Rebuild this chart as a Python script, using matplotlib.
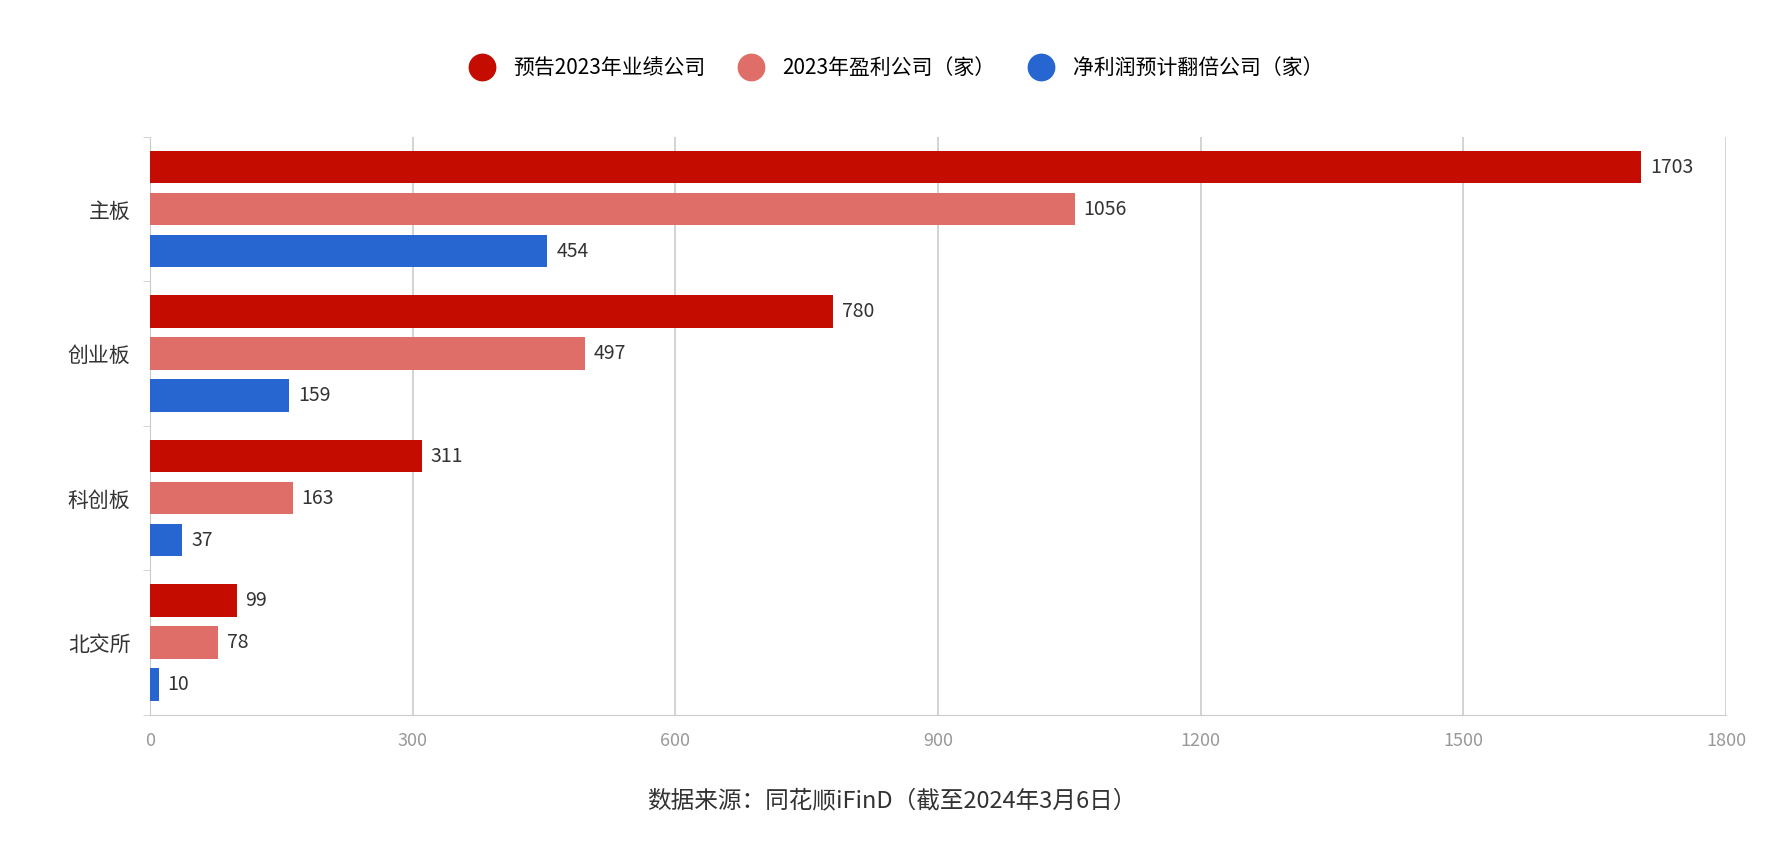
import numpy as np
import matplotlib
matplotlib.use("Agg")
from matplotlib import pyplot as plt
from matplotlib.lines import Line2D

plt.rcParams['font.family'] = ['Noto Sans CJK SC', 'DejaVu Sans']

categories = ["主板", "创业板", "科创板", "北交所"]
series_names = ["预告2023年业绩公司", "2023年盈利公司（家）", "净利润预计翻倍公司（家）"]
forecast = [1703, 780, 311, 99]
profit = [1056, 497, 163, 78]
doubled = [454, 159, 37, 10]
x_ticks = [0, 300, 600, 900, 1200, 1500, 1800]
colors = ["#C40D00", "#E06E68", "#2766D1"]

fig = plt.figure(figsize=(17.84, 8.5), dpi=100)
ax = fig.add_axes([0.084, 0.159, 0.8835, 0.68])

pos = np.arange(len(categories))
offsets = [-0.29, 0.0, 0.29]
for vals, off, col in zip([forecast, profit, doubled], offsets, colors):
    bars = ax.barh(pos + off, vals, height=0.225, color=col, zorder=3)
    for b, v in zip(bars, vals):
        ax.text(v + 10, b.get_y() + b.get_height() / 2, str(v),
                va='center', ha='left', fontsize=14, color='#333333')

ax.set_xlim(0, 1800)
ax.set_ylim(len(categories) - 0.5, -0.5)
ax.set_xticks(x_ticks)
ax.set_xticklabels([str(t) for t in x_ticks], fontsize=13, color='#999999')
ax.set_yticks(pos)
ax.set_yticklabels(categories, fontsize=15, color='#333333')
ax.set_yticks(np.arange(len(categories) + 1) - 0.5, minor=True)
ax.tick_params(axis='y', which='major', length=0, pad=14)
ax.tick_params(axis='y', which='minor', length=5, color='#cccccc')
ax.tick_params(axis='x', length=0, pad=12)
ax.grid(axis='x', color='#cccccc', linewidth=1.2, zorder=0)
for s in ['top', 'right']:
    ax.spines[s].set_visible(False)
ax.spines['left'].set_color('#cccccc')
ax.spines['bottom'].set_color('#cccccc')

handles = [Line2D([], [], marker='o', linestyle='', markersize=19, color=c) for c in colors]
fig.legend(handles, series_names, loc='center', bbox_to_anchor=(0.5, 0.92), ncol=3,
           frameon=False, fontsize=15, handletextpad=0.5, columnspacing=1.2)

fig.text(0.5, 0.058, "数据来源：同花顺iFinD（截至2024年3月6日）", ha='center', va='center',
         fontsize=17, color='#333333')

fig.savefig("out.png", dpi=100, facecolor='white')
